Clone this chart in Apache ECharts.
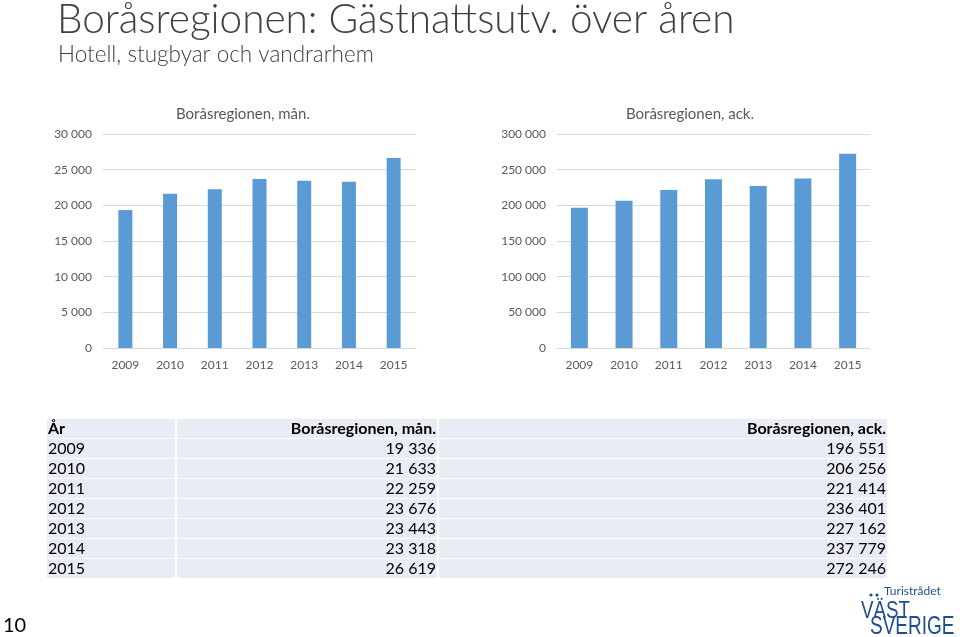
<!DOCTYPE html>
<html>
<head>
<meta charset="utf-8">
<script src="https://cdn.jsdelivr.net/npm/echarts@6/dist/echarts.min.js"></script>
<style>html,body{margin:0;padding:0;background:#fff}#c{width:960px;height:637px}</style>
</head>
<body>
<div id="c"></div>
<script>
var years = ['2009','2010','2011','2012','2013','2014','2015'];
var monthly = [19336, 21633, 22259, 23676, 23443, 23318, 26619];
var accumulated = [196551, 206256, 221414, 236401, 227162, 237779, 272246];
var seriesNames = ['Boråsregionen, mån.', 'Boråsregionen, ack.'];
var tableHeader = ['År', 'Boråsregionen, mån.', 'Boråsregionen, ack.'];

function fmt(n){ return String(n).replace(/\B(?=(\d{3})+(?!\d))/g, ' '); }

var FONT = 'Lato, "Liberation Sans", sans-serif';
var chart = echarts.init(document.getElementById('c'), null, {renderer:'canvas'});

var axisLabel = {color:'#595959', fontSize:12, fontFamily:FONT, formatter:function(v){return fmt(v);}};
var xLabel = {color:'#595959', fontSize:12, fontFamily:FONT, margin:11};

// table graphics
var g = [];
var tX = [47, 177, 439], tW = [128, 260, 448];
var rowH = 20, tTop = 419;
var rows = [tableHeader];
for (var i=0;i<years.length;i++) rows.push([years[i], fmt(monthly[i]), fmt(accumulated[i])]);
for (var r=0;r<rows.length;r++){
  for (var c=0;c<3;c++){
    g.push({type:'rect', shape:{x:tX[c], y:tTop+r*rowH, width:tW[c], height:rowH-1}, style:{fill:'#e9ebf5'}, silent:true});
    var isLeft = c===0;
    g.push({type:'text', x: isLeft ? tX[c]+1 : tX[c]+tW[c]-1, y: tTop+r*rowH+rowH/2,
      style:{text:rows[r][c], fill:'#000', font:(r===0?'bold ':'')+'16px '+FONT, align:isLeft?'left':'right', verticalAlign:'middle'}, silent:true});
  }
}
// title, subtitle
g.push({type:'text', x:57, y:20, style:{text:'Boråsregionen: Gästnattsutv. över åren', fill:'#404040', font:'300 40.5px '+FONT, verticalAlign:'middle'}});
g.push({type:'text', x:58, y:55, style:{text:'Hotell, stugbyar och vandrarhem', fill:'#404040', font:'300 22.5px '+FONT, verticalAlign:'middle'}});
// page number
g.push({type:'text', x:3, y:626, style:{text:'10', fill:'#000', font:'20px '+FONT, verticalAlign:'middle'}});
// logo
g.push({type:'text', x:884, y:591, style:{text:'Turistrådet', fill:'#1f4e8c', font:'12px '+FONT, verticalAlign:'middle'}});
g.push({type:'circle', shape:{cx:871, cy:595, r:1.6}, style:{fill:'#1f4e8c'}});
g.push({type:'circle', shape:{cx:877, cy:595, r:1.6}, style:{fill:'#1f4e8c'}});
g.push({type:'text', x:861, y:611, scaleX:0.78, style:{text:'VÄST', fill:'#1f4e8c', font:'24px "Liberation Sans", sans-serif', verticalAlign:'middle'}});
g.push({type:'text', x:870, y:627, scaleX:0.76, style:{text:'SVERIGE', fill:'#1f4e8c', font:'25px "Liberation Sans", sans-serif', verticalAlign:'middle'}});

var option = {
  backgroundColor:'#fff',
  animation:false,
  title:[
    {text:seriesNames[0], left:238, top:102, textAlign:'center', textStyle:{color:'#595959', fontSize:15, fontWeight:'normal', fontFamily:FONT}},
    {text:seriesNames[1], left:685, top:102, textAlign:'center', textStyle:{color:'#595959', fontSize:15, fontWeight:'normal', fontFamily:FONT}}
  ],
  grid:[
    {left:103, right:544, top:134, bottom:289, containLabel:false},
    {left:557, right:90, top:134, bottom:289, containLabel:false}
  ],
  xAxis:[
    {type:'category', gridIndex:0, data:years, axisLine:{lineStyle:{color:'#d9d9d9'}}, axisTick:{show:false}, axisLabel:xLabel},
    {type:'category', gridIndex:1, data:years, axisLine:{lineStyle:{color:'#d9d9d9'}}, axisTick:{show:false}, axisLabel:xLabel}
  ],
  yAxis:[
    {type:'value', gridIndex:0, min:0, max:30000, interval:5000, axisLine:{show:false}, axisTick:{show:false}, axisLabel:Object.assign({margin:11}, axisLabel), splitLine:{lineStyle:{color:'#d9d9d9'}}},
    {type:'value', gridIndex:1, min:0, max:300000, interval:50000, axisLine:{show:false}, axisTick:{show:false}, axisLabel:Object.assign({margin:11}, axisLabel), splitLine:{lineStyle:{color:'#d9d9d9'}}}
  ],
  series:[
    {type:'bar', name:seriesNames[0], xAxisIndex:0, yAxisIndex:0, data:monthly, barWidth:14, itemStyle:{color:'#5b9bd5'}},
    {type:'bar', name:seriesNames[1], xAxisIndex:1, yAxisIndex:1, data:accumulated, barWidth:17, itemStyle:{color:'#5b9bd5'}}
  ],
  graphic:g
};
chart.setOption(option);
</script>
</body>
</html>
